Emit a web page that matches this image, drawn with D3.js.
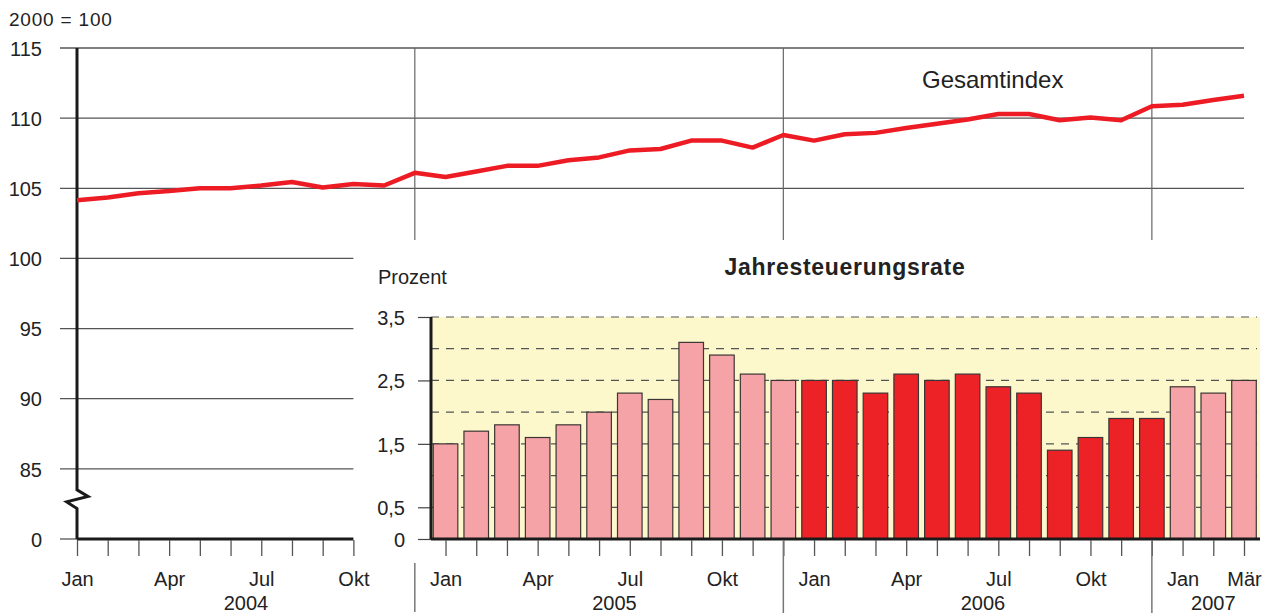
<!DOCTYPE html>
<meta charset="utf-8">
<style>
body { margin: 0; background: #fff; }
svg text { font-family: "Liberation Sans", Arial, sans-serif; fill: #222; }
.tick text { font-size: 20px; }
.axis path.domain { display: none; }
</style>
<body>
<div id="chart"></div>
<script src="https://cdn.jsdelivr.net/npm/d3@7"></script>
<script>

// data, monthly from Jan 2004
var monthNames = ['Jan','Feb','Mär','Apr','Mai','Jun','Jul','Aug','Sep','Okt','Nov','Dez'];
var years = [2004, 2005, 2006, 2007];
var indexValues = [
  104.15, 104.35, 104.65, 104.8, 105.0, 105.0, 105.2, 105.45, 105.05, 105.3, 105.2, 106.1,   // 2004
  105.8, 106.2, 106.6, 106.6, 107.0, 107.2, 107.7, 107.8, 108.4, 108.4, 107.9, 108.8,        // 2005
  108.4, 108.85, 108.95, 109.3, 109.6, 109.9, 110.3, 110.3, 109.85, 110.05, 109.85, 110.85,  // 2006
  110.95, 111.3, 111.6                                                                         // 2007
];
// Jahresteuerungsrate, starts Jan 2005
var rateValues = [
  1.5, 1.7, 1.8, 1.6, 1.8, 2.0, 2.3, 2.2, 3.1, 2.9, 2.6, 2.5,
  2.5, 2.5, 2.3, 2.6, 2.5, 2.6, 2.4, 2.3, 1.4, 1.6, 1.9, 1.9,
  2.4, 2.3, 2.5
];
var rateStart = 12;
var highlightYear = 2006;
var indexTicks = [80, 85, 90, 95, 100, 105, 110, 115];   // 80 is shown as 0 (axis break)
var rateTicks = [0, 0.5, 1.5, 2.5, 3.5];
var rateGrid = [0.5, 1, 1.5, 2, 2.5, 3, 3.5];

var width = 1274, height = 616;
var n = indexValues.length;

var svg = d3.select("#chart").append("svg")
  .attr("width", width)
  .attr("height", height);

var x = d3.scaleLinear().domain([0, n - 1]).range([77, 1244]);
var step = x(1) - x(0);
var yMain = d3.scaleLinear().domain([80, 115]).range([539, 48]);
var yBar = d3.scaleLinear().domain([0, 3.5]).range([539, 317]);

var xBarLeft = 431, xBarRight = 1260;

// ---------- main chart ----------
// horizontal grid
svg.selectAll(".hgrid")
  .data(indexTicks)
  .enter().append("line")
  .attr("x1", 60)
  .attr("x2", function(d) { return d >= 105 ? x(n - 1) : (d == 80 ? 77 : x(9)); })
  .attr("y1", function(d) { return yMain(d); })
  .attr("y2", function(d) { return yMain(d); })
  .attr("stroke", "#555")
  .attr("stroke-width", 1.3);

// year dividers in the upper part
var decIdx = [11, 23, 35];
svg.selectAll(".vgrid")
  .data(decIdx)
  .enter().append("line")
  .attr("x1", function(d) { return x(d); })
  .attr("x2", function(d) { return x(d); })
  .attr("y1", yMain(115))
  .attr("y2", 240)
  .attr("stroke", "#666")
  .attr("stroke-width", 1.2);

// y axis labels
var yAxis = svg.append("g")
  .attr("class", "axis")
  .attr("transform", "translate(77,0)")
  .call(d3.axisLeft(yMain).tickValues(indexTicks).tickSize(0).tickPadding(35)
    .tickFormat(function(d) { return d == 80 ? "0" : d; }));
yAxis.selectAll("text").style("font-size", "20px").attr("dy", "0.36em");

// y axis line with break
var y83 = yMain(83.5);
svg.append("path")
  .attr("d", "M77," + yMain(115) + "V" + y83 + "L88," + (y83 + 6.6) + "L66.7," + (y83 + 12) + "L77," + (y83 + 18.6) + "V" + yMain(80))
  .attr("fill", "none")
  .attr("stroke", "#1a1a1a")
  .attr("stroke-width", 3);

// x axis 2004
svg.append("line")
  .attr("x1", x(0)).attr("x2", x(9))
  .attr("y1", 539).attr("y2", 539)
  .attr("stroke", "#1a1a1a").attr("stroke-width", 3);

// ---------- inset: Jahresteuerungsrate ----------
svg.append("rect")
  .attr("x", xBarLeft)
  .attr("y", yBar(3.5))
  .attr("width", xBarRight - xBarLeft)
  .attr("height", yBar(0) - yBar(3.5))
  .attr("fill", "#fdf8cc");

svg.selectAll(".dgrid")
  .data(rateGrid)
  .enter().append("line")
  .attr("x1", xBarLeft)
  .attr("x2", 1257)
  .attr("y1", function(d) { return yBar(d); })
  .attr("y2", function(d) { return yBar(d); })
  .attr("stroke", "#555")
  .attr("stroke-width", 1.2)
  .attr("stroke-dasharray", "8,7");

var barW = step * 0.8;
svg.selectAll(".bar")
  .data(rateValues)
  .enter().append("rect")
  .attr("class", "bar")
  .attr("x", function(d, i) { return x(i + rateStart) - barW / 2; })
  .attr("y", function(d) { return yBar(d); })
  .attr("width", barW)
  .attr("height", function(d) { return yBar(0) - yBar(d); })
  .attr("fill", function(d, i) {
    return years[Math.floor((i + rateStart) / 12)] == highlightYear ? "#ec2227" : "#f5a3a6";
  })
  .attr("stroke", "#3b3535")
  .attr("stroke-width", 1.2);

var barAxis = svg.append("g")
  .attr("class", "axis")
  .attr("transform", "translate(" + xBarLeft + ",0)")
  .call(d3.axisLeft(yBar).tickValues(rateTicks).tickSize(13).tickPadding(13)
    .tickFormat(function(d) { return String(d).replace(".", ","); }));
barAxis.selectAll("line").attr("stroke", "#444").attr("stroke-width", 1.2);
barAxis.selectAll("text").style("font-size", "20px").attr("dy", "0.36em");

svg.append("line")
  .attr("x1", xBarLeft).attr("x2", xBarLeft)
  .attr("y1", yBar(3.5)).attr("y2", yBar(0))
  .attr("stroke", "#1a1a1a").attr("stroke-width", 3);
svg.append("line")
  .attr("x1", xBarLeft).attr("x2", xBarRight)
  .attr("y1", 539).attr("y2", 539)
  .attr("stroke", "#1a1a1a").attr("stroke-width", 3);

// ---------- month axis ----------
var monthIdx = d3.range(0, 10).concat(d3.range(rateStart, n));
var xAxis = svg.append("g")
  .attr("class", "axis")
  .attr("transform", "translate(0,540)")
  .call(d3.axisBottom(x).tickValues(monthIdx).tickSize(16).tickPadding(16)
    .tickFormat(function(i) {
      var m = i % 12;
      return (m % 3 == 0 || i == n - 1) ? monthNames[m] : "";
    }));
xAxis.selectAll("line").attr("stroke", "#555").attr("stroke-width", 1.3);

// year separators
svg.append("line")
  .attr("x1", x(11)).attr("x2", x(11))
  .attr("y1", 563).attr("y2", 612)
  .attr("stroke", "#777").attr("stroke-width", 1.5);
svg.selectAll(".ysep")
  .data([23, 35])
  .enter().append("line")
  .attr("x1", function(d) { return x(d); })
  .attr("x2", function(d) { return x(d); })
  .attr("y1", 540).attr("y2", 613)
  .attr("stroke", "#777").attr("stroke-width", 1.5);

// year labels
svg.selectAll(".year")
  .data(years)
  .enter().append("text")
  .attr("x", function(d, k) {
    var first = k * 12, last = Math.min(k * 12 + 11, n - 1);
    return (x(first) + x(last)) / 2;
  })
  .attr("y", 610)
  .attr("text-anchor", "middle")
  .style("font-size", "20px")
  .text(function(d) { return d; });

// ---------- index line ----------
var line = d3.line()
  .x(function(d, i) { return x(i); })
  .y(function(d) { return yMain(d); });

svg.append("path")
  .datum(indexValues)
  .attr("d", line)
  .attr("fill", "none")
  .attr("stroke", "#ed1c24")
  .attr("stroke-width", 4.5)
  .attr("stroke-linejoin", "round");

// ---------- texts ----------
svg.append("text")
  .attr("x", 9).attr("y", 26)
  .style("font-size", "19px")
  .style("letter-spacing", "0.8px")
  .text("2000 = 100");

svg.append("text")
  .attr("x", 922).attr("y", 88)
  .style("font-size", "24px")
  .text("Gesamtindex");

svg.append("text")
  .attr("x", 378).attr("y", 284)
  .style("font-size", "20px")
  .text("Prozent");

svg.append("text")
  .attr("x", 845).attr("y", 275)
  .attr("text-anchor", "middle")
  .style("font-size", "23px")
  .style("font-weight", "bold")
  .style("letter-spacing", "0.7px")
  .text("Jahresteuerungsrate");

</script>
</body>
</html>
